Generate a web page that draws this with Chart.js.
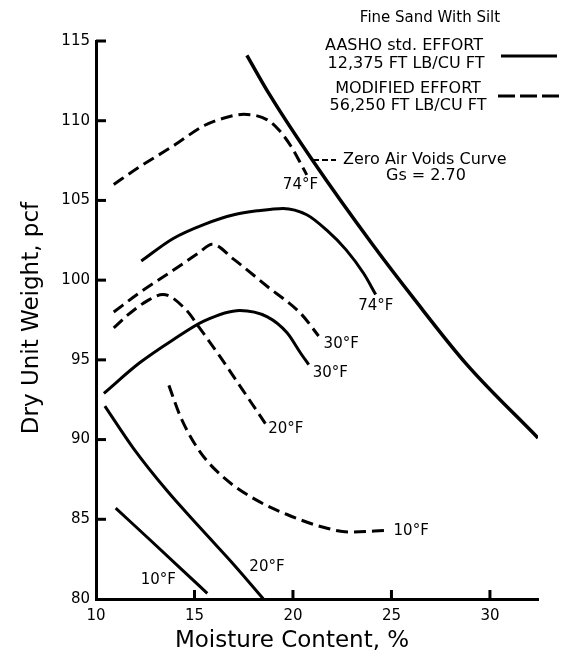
<!DOCTYPE html>
<html>
<head>
<meta charset="utf-8">
<script src="https://cdn.jsdelivr.net/npm/chart.js@4/dist/chart.umd.min.js"></script>
<style>
  html, body { margin: 0; padding: 0; background: #fff; }
  canvas { display: block; }
</style>
</head>
<body>
<canvas id="proctor" width="563" height="653"></canvas>
<script>
// moisture content (%) vs dry unit weight (pcf)
const zavMoisture = [17.66, 18.83, 21.0, 24.06, 26.1, 28.83, 32.44];
const zavWeight   = [114.1, 111.6, 107.5, 102.2, 98.9, 94.7, 90.1];

// modified effort (dashed)
const mod74Moisture = [10.9, 12.2, 13.9, 15.5, 16.6, 17.5, 18.7, 19.3, 19.9, 20.4, 20.7];
const mod74Weight   = [106.0, 107.1, 108.4, 109.7, 110.2, 110.4, 110.05, 109.4, 108.4, 107.3, 106.6];
const mod30Moisture = [10.9, 12.2, 13.9, 15.2, 15.9, 17.0, 18.7, 20.4, 21.3];
const mod30Weight   = [98.0, 99.2, 100.6, 101.7, 102.25, 101.3, 99.6, 97.9, 96.5];
const mod20Moisture = [10.9, 11.6, 12.6, 13.4, 14.6, 15.2, 16.3, 17.4, 18.6];
const mod20Weight   = [97.0, 97.8, 98.7, 99.1, 98.1, 97.1, 95.2, 93.2, 91.0];
const mod10Moisture = [13.7, 14.3, 15.3, 16.6, 18.15, 19.7, 21.4, 22.9, 24.75];
const mod10Weight   = [93.4, 91.4, 89.2, 87.5, 86.2, 85.3, 84.55, 84.2, 84.3];

// AASHO standard effort (solid)
const std74Moisture = [12.3, 13.9, 15.5, 17.0, 18.2, 19.5, 20.7, 21.7, 22.7, 23.6, 24.2];
const std74Weight   = [101.2, 102.6, 103.5, 104.1, 104.35, 104.5, 104.1, 103.15, 101.9, 100.4, 99.1];
const std30Moisture = [10.4, 12.2, 13.9, 15.5, 17.3, 18.7, 19.7, 20.4, 20.8];
const std30Weight   = [92.9, 94.8, 96.25, 97.45, 98.1, 97.7, 96.7, 95.4, 94.7];
const std20Moisture = [10.45, 11.9, 13.6, 15.3, 17.0, 18.5];
const std20Weight   = [92.1, 89.45, 86.8, 84.45, 82.15, 80.0];
const std10Moisture = [11.0, 12.75, 14.4, 15.65];
const std10Weight   = [85.7, 83.7, 81.8, 80.35];

// temperature tags next to the curve ends
const tagText     = ["74°F", "74°F", "30°F", "30°F", "20°F", "10°F", "20°F", "10°F"];
const tagMoisture = [20.38, 24.21, 22.45, 21.9, 19.64, 26.0, 18.68, 13.16];
const tagWeight   = [105.94, 98.38, 96.0, 94.18, 90.67, 84.27, 81.98, 81.19];

const xTicks = [10, 15, 20, 25, 30];
const yTicks = [80, 85, 90, 95, 100, 105, 110, 115];

Chart.defaults.font.family = "'DejaVu Sans', sans-serif";
Chart.defaults.color = "#000";

function series(xs, ys) {
  return xs.map((v, i) => ({ x: v, y: ys[i] }));
}

function curve(xs, ys, dashed, width) {
  return {
    data: series(xs, ys),
    showLine: true,
    borderColor: "#000",
    borderWidth: width || 3,
    borderDash: dashed ? [12, 6] : [],
    pointRadius: 0,
    fill: false,
    cubicInterpolationMode: "monotone"
  };
}

function line(ctx, x1, y1, x2, y2) {
  ctx.beginPath();
  ctx.moveTo(x1, y1);
  ctx.lineTo(x2, y2);
  ctx.stroke();
}

const overlay = {
  id: "overlay",
  afterDraw(chart) {
    const { ctx, chartArea: a, scales: { x, y } } = chart;
    ctx.save();
    ctx.strokeStyle = "#000";
    ctx.fillStyle = "#000";

    // ticks point into the plot
    ctx.lineWidth = 3;
    xTicks.slice(1).forEach(v => {
      const px = x.getPixelForValue(v);
      line(ctx, px, a.bottom, px, a.bottom - 9);
    });
    yTicks.slice(1).forEach(v => {
      const py = y.getPixelForValue(v);
      line(ctx, a.left, py, a.left + 10, py);
    });

    // temperature tags
    ctx.font = "15px 'DejaVu Sans'";
    ctx.textAlign = "center";
    ctx.textBaseline = "middle";
    tagText.forEach((t, i) => {
      ctx.fillText(t, x.getPixelForValue(tagMoisture[i]), y.getPixelForValue(tagWeight[i]));
    });

    // axis titles
    ctx.font = "23px 'DejaVu Sans'";
    ctx.textBaseline = "alphabetic";
    ctx.fillText("Moisture Content, %", 292, 647);
    ctx.save();
    ctx.translate(38, 318);
    ctx.rotate(-Math.PI / 2);
    ctx.fillText("Dry Unit Weight, pcf", 0, 0);
    ctx.restore();

    // key, top right
    ctx.textBaseline = "middle";
    ctx.font = "15px 'DejaVu Sans'";
    ctx.fillText("Fine Sand With Silt", 430, 18);
    ctx.font = "16px 'DejaVu Sans'";
    ctx.fillText("AASHO std. EFFORT", 404, 46);
    ctx.fillText("12,375 FT LB/CU FT", 406, 64);
    ctx.fillText("MODIFIED EFFORT", 408, 89);
    ctx.fillText("56,250 FT LB/CU FT", 408, 106);
    ctx.fillText("Gs = 2.70", 426, 176);
    ctx.textAlign = "left";
    ctx.fillText("Zero Air Voids Curve", 343, 160);

    ctx.lineWidth = 3;
    line(ctx, 501, 56, 557, 56);
    ctx.setLineDash([17, 5]);
    line(ctx, 498, 96, 560, 96);
    ctx.lineWidth = 2;
    ctx.setLineDash([6, 3]);
    line(ctx, 313, 160, 336, 160);
    ctx.restore();
  }
};

new Chart(document.getElementById("proctor"), {
  type: "scatter",
  data: {
    datasets: [
      curve(zavMoisture, zavWeight, false, 3.5),
      curve(mod74Moisture, mod74Weight, true),
      curve(mod30Moisture, mod30Weight, true),
      curve(mod20Moisture, mod20Weight, true),
      curve(mod10Moisture, mod10Weight, true),
      curve(std74Moisture, std74Weight, false),
      curve(std30Moisture, std30Weight, false),
      curve(std20Moisture, std20Weight, false),
      curve(std10Moisture, std10Weight, false)
    ]
  },
  options: {
    responsive: false,
    animation: false,
    layout: { padding: { top: 41, right: 25, left: 0, bottom: 0 } },
    plugins: { legend: { display: false }, tooltip: { enabled: false } },
    scales: {
      x: {
        type: "linear",
        min: 10,
        max: 32.44,
        border: { color: "#000", width: 3 },
        grid: { display: true, drawOnChartArea: false, drawTicks: false },
        ticks: { stepSize: 5, includeBounds: false, padding: 8, font: { size: 15 } },
        afterFit(scale) { scale.height = 54; }
      },
      y: {
        type: "linear",
        min: 80,
        max: 115,
        border: { color: "#000", width: 3 },
        grid: { display: true, drawOnChartArea: false, drawTicks: false },
        ticks: { stepSize: 5, padding: 6, font: { size: 15 } },
        afterFit(scale) { scale.width = 96; }
      }
    }
  },
  plugins: [overlay]
});
</script>
</body>
</html>
